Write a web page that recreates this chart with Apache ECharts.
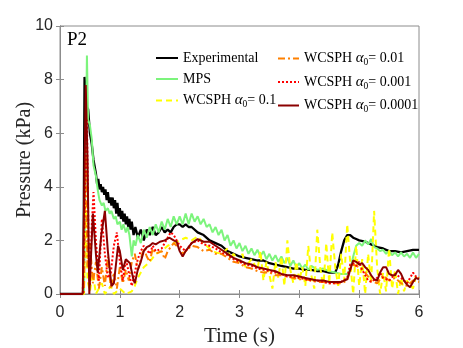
<!DOCTYPE html>
<html>
<head>
<meta charset="utf-8">
<script src="https://cdn.jsdelivr.net/npm/echarts@6/dist/echarts.min.js"></script>
<style>
  html, body { margin: 0; padding: 0; background: #fff; }
  #chart { width: 463px; height: 348px; }
</style>
</head>
<body>
<div id="chart"></div>
<script>
const xTicks = [0, 1, 2, 3, 4, 5, 6];
const yTicks = [0, 2, 4, 6, 8, 10];

// [time (s), pressure (kPa)]
const experimental = [
  [0, 0], [0.39, 0], [0.41, 8.1], [0.44, 7.0], [0.47, 6.9], [0.5, 6.0], [0.53, 5.6], [0.56, 5.0],
  [0.6, 4.5], [0.62, 4.1], [0.64, 4.3], [0.66, 3.9], [0.68, 4.1], [0.7, 3.8], [0.72, 4.0], [0.74, 3.7],
  [0.76, 3.9], [0.78, 3.5], [0.8, 3.8], [0.82, 3.4], [0.84, 3.6], [0.86, 3.3], [0.88, 3.6], [0.9, 3.2],
  [0.92, 3.5], [0.94, 3.0], [0.96, 3.4], [0.98, 2.9], [1.0, 3.2], [1.02, 2.8], [1.04, 3.1], [1.06, 2.7],
  [1.08, 3.0], [1.1, 2.6], [1.12, 2.9], [1.14, 2.5], [1.16, 2.8], [1.18, 2.4], [1.2, 2.7], [1.23, 2.2],
  [1.26, 2.5], [1.3, 2.1], [1.35, 2.4], [1.4, 2.0], [1.45, 2.4], [1.5, 2.2], [1.55, 2.5], [1.6, 2.2],
  [1.65, 2.3], [1.7, 2.5], [1.75, 2.3], [1.8, 2.4], [1.85, 2.3], [1.9, 2.5], [1.95, 2.6], [2.0, 2.6],
  [2.05, 2.5], [2.1, 2.6], [2.15, 2.5], [2.2, 2.5], [2.3, 2.3], [2.4, 2.2], [2.5, 2.0], [2.6, 1.9],
  [2.7, 1.8], [2.8, 1.6], [2.9, 1.5], [3.0, 1.4], [3.1, 1.35], [3.2, 1.3], [3.3, 1.25], [3.4, 1.25],
  [3.5, 1.15], [3.6, 1.1], [3.7, 1.05], [3.8, 1.0], [3.9, 0.95], [4.0, 0.95], [4.1, 0.9], [4.2, 0.9],
  [4.3, 0.85], [4.4, 0.85], [4.5, 0.8], [4.6, 0.8], [4.65, 1.1], [4.7, 1.6], [4.75, 2.0], [4.8, 2.2],
  [4.85, 2.2], [4.9, 2.1], [4.95, 2.05], [5.0, 2.0], [5.1, 1.95], [5.2, 1.85], [5.3, 1.75], [5.4, 1.7],
  [5.5, 1.6], [5.6, 1.6], [5.7, 1.55], [5.8, 1.6], [5.9, 1.65], [6.0, 1.65]
];

const mps = [
  [0, 0], [0.4, 0], [0.43, 5.0], [0.45, 8.9], [0.47, 6.5], [0.5, 6.3], [0.53, 5.8], [0.56, 4.8],
  [0.6, 4.4], [0.63, 3.9], [0.66, 3.5], [0.7, 3.3], [0.73, 3.4], [0.76, 3.1], [0.8, 3.2], [0.83, 3.0],
  [0.86, 3.1], [0.9, 2.8], [0.93, 2.9], [0.96, 2.6], [1.0, 2.7], [1.03, 2.4], [1.06, 2.6], [1.1, 2.3],
  [1.13, 2.5], [1.16, 2.2], [1.2, 1.4], [1.23, 2.0], [1.26, 1.8], [1.3, 2.2], [1.35, 1.9], [1.4, 2.4],
  [1.45, 2.1], [1.5, 2.5], [1.55, 2.2], [1.6, 2.6], [1.65, 2.3], [1.7, 2.7], [1.75, 2.4], [1.8, 2.8],
  [1.85, 2.5], [1.9, 2.9], [1.95, 2.6], [2.0, 2.9], [2.05, 2.6], [2.1, 3.0], [2.15, 2.6], [2.2, 3.0],
  [2.25, 2.7], [2.3, 2.9], [2.35, 2.6], [2.4, 2.8], [2.45, 2.5], [2.5, 2.6], [2.55, 2.3], [2.6, 2.5],
  [2.65, 2.2], [2.7, 2.4], [2.75, 2.0], [2.8, 2.2], [2.85, 1.8], [2.9, 2.0], [2.95, 1.7], [3.0, 1.9],
  [3.05, 1.6], [3.1, 1.8], [3.15, 1.5], [3.2, 1.7], [3.25, 1.45], [3.3, 1.65], [3.35, 1.4], [3.4, 1.6],
  [3.45, 1.3], [3.5, 1.5], [3.55, 1.25], [3.6, 1.45], [3.65, 1.2], [3.7, 1.4], [3.75, 1.15], [3.8, 1.35],
  [3.85, 1.05], [3.9, 1.25], [3.95, 1.0], [4.0, 1.15], [4.05, 0.95], [4.1, 1.1], [4.15, 0.9], [4.2, 1.05],
  [4.3, 0.9], [4.4, 0.95], [4.5, 0.85], [4.6, 0.8], [4.7, 0.75], [4.8, 0.75], [4.85, 0.9], [4.9, 1.4],
  [4.95, 1.8], [5.0, 1.9], [5.05, 1.8], [5.1, 2.0], [5.15, 1.85], [5.2, 2.05], [5.25, 1.75], [5.3, 1.7],
  [5.35, 1.6], [5.4, 1.65], [5.45, 1.5], [5.5, 1.6], [5.55, 1.45], [5.6, 1.55], [5.65, 1.4], [5.7, 1.55],
  [5.75, 1.4], [5.8, 1.5], [5.85, 1.35], [5.9, 1.55], [5.95, 1.35], [6.0, 1.5]
];

const wcsph01 = [
  [0, 0], [0.4, 0], [0.43, 3.5], [0.46, 0.5], [0.5, 0.1], [0.55, 0.8], [0.6, 0], [0.7, 0.4],
  [0.75, 0], [0.85, 0.3], [0.9, 0], [1.0, 0.2], [1.1, 0], [1.2, 0.1], [1.25, 0.3], [1.3, 0.6],
  [1.35, 0.8], [1.4, 1.0], [1.5, 1.2], [1.6, 1.5], [1.7, 1.6], [1.8, 1.8], [1.9, 1.9], [2.0, 2.0],
  [2.1, 2.1], [2.2, 2.0], [2.3, 2.15], [2.4, 1.9], [2.5, 1.7], [2.6, 1.55], [2.7, 1.5], [2.8, 1.7],
  [2.85, 1.3], [2.9, 1.5], [3.0, 1.2], [3.05, 1.5], [3.1, 1.0], [3.2, 1.3], [3.3, 0.9], [3.35, 1.6],
  [3.4, 0.5], [3.45, 1.2], [3.5, 0.7], [3.55, 0.2], [3.6, 1.2], [3.65, 0.6], [3.7, 1.4], [3.75, 0.3],
  [3.8, 2.0], [3.85, 0.9], [3.9, 0.4], [3.95, 1.2], [4.0, 0.5], [4.05, 1.0], [4.1, 0.3], [4.15, 1.8],
  [4.2, 0.7], [4.25, 0.2], [4.3, 2.4], [4.35, 1.0], [4.4, 0.2], [4.45, 1.9], [4.5, 0.4], [4.55, 2.3],
  [4.6, 1.0], [4.65, 0.3], [4.7, 1.5], [4.75, 0.5], [4.8, 2.6], [4.85, 1.2], [4.9, 0], [4.95, 1.8],
  [5.0, 0.3], [5.05, 1.3], [5.1, 0], [5.15, 1.5], [5.2, 0.4], [5.25, 3.1], [5.3, 1.0], [5.35, 0],
  [5.4, 0.8], [5.45, 0.1], [5.5, 1.7], [5.55, 0.2], [5.6, 0.9], [5.65, 0], [5.7, 0.6], [5.75, 0.1],
  [5.8, 0.5], [5.9, 0.2], [5.95, 0.7], [6.0, 0.6]
];

const wcsph001 = [
  [0, 0], [0.4, 0], [0.43, 5.5], [0.46, 1.0], [0.5, 1.9], [0.55, 0.4], [0.6, 1.2], [0.65, 0.2],
  [0.7, 1.0], [0.75, 0.3], [0.8, 1.4], [0.85, 0.2], [0.9, 0.8], [0.95, 0.2], [1.0, 1.0], [1.05, 0.4],
  [1.1, 0.9], [1.15, 0.5], [1.2, 1.2], [1.25, 1.5], [1.3, 0.9], [1.35, 1.3], [1.4, 1.7], [1.45, 1.4],
  [1.5, 1.2], [1.55, 1.7], [1.6, 1.5], [1.7, 1.6], [1.75, 1.3], [1.8, 1.6], [1.9, 1.9], [2.0, 1.7],
  [2.05, 1.5], [2.1, 1.6], [2.2, 1.8], [2.3, 1.75], [2.4, 1.6], [2.5, 1.65], [2.6, 1.5], [2.7, 1.5],
  [2.8, 1.35], [2.9, 1.2], [3.0, 1.15], [3.1, 1.0], [3.2, 0.95], [3.3, 0.85], [3.4, 0.8], [3.5, 0.8],
  [3.6, 0.7], [3.7, 0.7], [3.8, 0.65], [3.9, 0.6], [4.0, 0.55], [4.1, 0.55], [4.2, 0.5], [4.3, 0.45],
  [4.4, 0.45], [4.5, 0.4], [4.6, 0.4], [4.7, 0.4], [4.8, 0.5], [4.85, 0.9], [4.9, 1.1], [5.0, 1.0],
  [5.1, 0.8], [5.2, 0.5], [5.3, 0.4], [5.4, 0.7], [5.5, 0.5], [5.6, 0.6], [5.7, 0.4], [5.8, 0.3],
  [5.9, 0.5], [6.0, 0.45]
];

const wcsph0001 = [
  [0, 0], [0.38, 0], [0.42, 4.0], [0.45, 6.5], [0.48, 1.5], [0.5, 0.3], [0.53, 2.5], [0.56, 3.8],
  [0.6, 2.0], [0.65, 0.5], [0.7, 2.8], [0.75, 1.5], [0.8, 0.6], [0.85, 0.8], [0.9, 1.8], [0.95, 2.3],
  [1.0, 1.2], [1.05, 0.5], [1.1, 1.3], [1.15, 0.8], [1.2, 0.3], [1.25, 0.8], [1.3, 1.3], [1.35, 1.6],
  [1.4, 1.8], [1.5, 1.5], [1.55, 1.8], [1.6, 1.6], [1.7, 1.7], [1.8, 2.1], [1.85, 2.3], [1.9, 2.2],
  [2.0, 1.8], [2.1, 1.6], [2.2, 1.9], [2.3, 2.0], [2.4, 1.85], [2.5, 1.8], [2.6, 1.7], [2.7, 1.55],
  [2.8, 1.45], [2.9, 1.3], [3.0, 1.2], [3.1, 1.1], [3.2, 1.05], [3.3, 0.95], [3.4, 0.9], [3.5, 0.85],
  [3.6, 0.8], [3.7, 0.75], [3.8, 0.65], [3.9, 0.65], [4.0, 0.6], [4.1, 0.55], [4.2, 0.5], [4.3, 0.5],
  [4.4, 0.45], [4.5, 0.4], [4.6, 0.4], [4.7, 0.45], [4.8, 0.6], [4.85, 1.1], [4.9, 1.15], [4.95, 1.05],
  [5.0, 1.2], [5.05, 0.9], [5.1, 0.7], [5.15, 0.5], [5.2, 0.45], [5.3, 0.6], [5.35, 0.8], [5.4, 0.6],
  [5.5, 0.5], [5.6, 0.75], [5.7, 0.6], [5.8, 0.4], [5.9, 0.8], [5.95, 0.65], [6.0, 0.6]
];

const wcsph00001 = [
  [0, 0], [0.38, 0], [0.4, 3.0], [0.43, 7.8], [0.46, 5.0], [0.49, 0], [0.55, 3.0], [0.6, 1.5],
  [0.63, 0.8], [0.69, 2.2], [0.75, 3.1], [0.8, 1.6], [0.86, 0.3], [0.9, 0.4], [0.97, 1.8], [1.0, 1.6],
  [1.05, 0.9], [1.1, 1.3], [1.17, 1.15], [1.22, 0.6], [1.25, 0.4], [1.3, 0.9], [1.35, 1.2], [1.4, 1.6],
  [1.45, 1.75], [1.5, 1.8], [1.55, 1.9], [1.6, 1.85], [1.67, 1.95], [1.75, 2.0], [1.83, 2.1], [1.9, 2.0],
  [1.95, 1.95], [2.0, 1.6], [2.05, 1.4], [2.1, 1.6], [2.2, 1.9], [2.3, 2.05], [2.4, 1.95], [2.5, 1.95],
  [2.6, 1.8], [2.7, 1.65], [2.8, 1.5], [2.9, 1.35], [3.0, 1.25], [3.1, 1.15], [3.2, 1.1], [3.3, 1.0],
  [3.4, 0.95], [3.5, 0.9], [3.6, 0.85], [3.7, 0.75], [3.8, 0.7], [3.9, 0.7], [4.0, 0.65], [4.1, 0.6],
  [4.2, 0.55], [4.3, 0.5], [4.4, 0.5], [4.5, 0.45], [4.6, 0.45], [4.7, 0.45], [4.8, 0.55], [4.85, 0.9],
  [4.9, 1.25], [4.95, 1.2], [5.0, 1.1], [5.05, 1.15], [5.1, 1.0], [5.15, 0.9], [5.2, 0.7], [5.25, 0.55],
  [5.3, 0.5], [5.35, 0.8], [5.4, 1.0], [5.45, 1.0], [5.5, 0.75], [5.55, 0.7], [5.6, 0.7], [5.65, 0.9],
  [5.7, 0.75], [5.75, 0.5], [5.8, 0.35], [5.85, 0.25], [5.9, 0.45], [5.95, 0.6], [6.0, 0.55]
];

const seriesNames = [
  "Experimental", "MPS",
  "WCSPH 0.1", "WCSPH 0.01", "WCSPH 0.001", "WCSPH 0.0001"
];

const chart = echarts.init(document.getElementById("chart"));
const serif = "Liberation Serif";
const sans = "Liberation Sans";

function legendLabel(name) {
  if (!name.startsWith("WCSPH")) {
    return "{t|" + name + "}";
  }
  const alpha = name.split(" ")[1];
  return "{t|WCSPH }{a|α}{s|0}{t|= " + alpha + "}";
}

const legendRich = {
  t: { fontFamily: serif, fontSize: 14, color: "#000" },
  a: { fontFamily: serif, fontSize: 15, fontStyle: "italic", color: "#000" },
  s: { fontFamily: serif, fontSize: 9.5, color: "#000", padding: [8, 0, 0, 0] }
};

function lineSeries(name, data, color, type, width) {
  return {
    name: name,
    type: "line",
    data: data,
    symbol: "none",
    animation: false,
    lineStyle: { color: color, width: width || 2, type: type },
    itemStyle: { color: color }
  };
}

const axisGray = "#8c8c8c";

const legendBase = {
  orient: "vertical",
  top: 51,
  padding: 0,
  itemHeight: 14, itemGap: 7,
  formatter: legendLabel,
  textStyle: { rich: legendRich },
  itemStyle: { opacity: 0 },
  selectedMode: false
};

chart.setOption({
  backgroundColor: "#fff",
  grid: {
    left: 60, right: 44, top: 26, bottom: 54,
    outerBoundsMode: "none",
    show: true, borderColor: axisGray, borderWidth: 1
  },
  legend: [
    Object.assign({}, legendBase, { data: seriesNames.slice(0, 3), left: 155, itemWidth: 22 }),
    Object.assign({}, legendBase, { data: seriesNames.slice(3), left: 277, itemWidth: 21 })
  ],
  title: {
    text: "P2",
    left: 67, top: 31, padding: 0,
    textStyle: { fontFamily: serif, fontSize: 19, fontWeight: "normal", color: "#000" }
  },
  xAxis: [
    {
      type: "value",
      min: xTicks[0], max: xTicks[xTicks.length - 1], interval: 1,
      name: "Time (s)",
      nameLocation: "middle",
      nameGap: 32,
      nameTextStyle: { fontFamily: serif, fontSize: 21, color: "#262626" },
      axisLine: { lineStyle: { color: axisGray } },
      axisTick: { inside: true, length: 4, lineStyle: { color: axisGray } },
      axisLabel: { fontFamily: sans, fontSize: 16, color: "#262626", margin: 11 },
      splitLine: { show: false }
    },
    {
      type: "value",
      position: "top",
      min: xTicks[0], max: xTicks[xTicks.length - 1], interval: 1,
      axisLine: { lineStyle: { color: axisGray } },
      axisTick: { inside: true, length: 4, lineStyle: { color: axisGray } },
      axisLabel: { show: false },
      splitLine: { show: false }
    }
  ],
  yAxis: [
    {
      type: "value",
      min: yTicks[0], max: yTicks[yTicks.length - 1], interval: 2,
      name: "Pressure (kPa)",
      nameLocation: "middle",
      nameGap: 25,
      nameMoveOverlap: false,
      nameTextStyle: { fontFamily: serif, fontSize: 20, color: "#262626" },
      axisLine: { show: true, lineStyle: { color: axisGray } },
      axisTick: { show: true, inside: true, length: 4, lineStyle: { color: axisGray } },
      axisLabel: { fontFamily: sans, fontSize: 16, color: "#262626", margin: 7 },
      splitLine: { show: false }
    },
    {
      type: "value",
      position: "right",
      min: yTicks[0], max: yTicks[yTicks.length - 1], interval: 2,
      axisLine: { show: true, lineStyle: { color: axisGray } },
      axisTick: { show: true, inside: true, length: 4, lineStyle: { color: axisGray } },
      axisLabel: { show: false },
      splitLine: { show: false }
    }
  ],
  series: [
    lineSeries(seriesNames[0], experimental, "#000000", "solid", 2.3),
    lineSeries(seriesNames[1], mps, "#7cf47c", "solid"),
    lineSeries(seriesNames[2], wcsph01, "#ffff00", [6, 4]),
    lineSeries(seriesNames[3], wcsph001, "#ff8000", [7, 3, 2, 3]),
    lineSeries(seriesNames[4], wcsph0001, "#ff0000", [2, 2]),
    lineSeries(seriesNames[5], wcsph00001, "#8b0000", "solid")
  ]
});

window.addEventListener("resize", () => chart.resize());
</script>
</body>
</html>
